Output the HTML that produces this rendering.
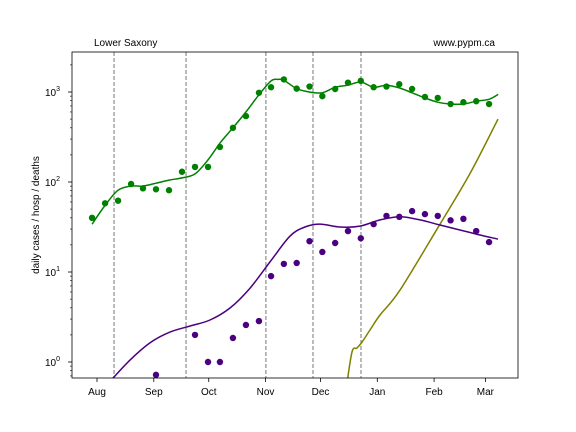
<!DOCTYPE html>
<html><head><meta charset="utf-8"><style>
body{margin:0;background:#fff;}
svg{display:block;font-family:"Liberation Sans","DejaVu Sans",sans-serif;}
</style></head><body>
<svg id="chart" width="576" height="432" viewBox="0 0 576 432" xmlns="http://www.w3.org/2000/svg">
<rect x="0" y="0" width="576" height="432" fill="#fff"/>
<defs><clipPath id="plotclip"><rect x="72" y="52" width="446" height="326"/></clipPath></defs>
<text x="94" y="46" font-size="10">Lower Saxony</text>
<text x="495" y="46" font-size="10" text-anchor="end">www.pypm.ca</text>
<text transform="translate(39,215) rotate(-90)" font-size="10" text-anchor="middle">daily cases / hosp / deaths</text>
<g id="grid"></g>
<g id="marks" clip-path="url(#plotclip)"></g>
<rect x="72" y="52" width="446" height="326" fill="none" stroke="#000" stroke-width="0.8"/>
<g id="axes"></g>
</svg>
<script>
// ---- data (days since Aug 1) ----
const monthLabels = ["Aug","Sep","Oct","Nov","Dec","Jan","Feb","Mar"];
const monthDays = [0,31,61,92,122,153,184,212];
const yTickExps = [0,1,2,3];
const eventDays = [9.3,48.6,92.2,117.9,144.1];
const dotDays = [-2.7,4.4,11.5,18.6,25.1,32.2,39.3,46.4,53.5,60.6,67.1,74.2,81.3,88.4,95,102,109,116,123,130,137,144,151,158,165,172,179,186,193,200,207,214];
const caseDots = [40,58,62,95,85,83,81,130,147,147,245,400,540,980,1130,1380,1090,1150,900,1080,1270,1330,1130,1150,1220,1080,880,860,735,770,790,735];
const deathDays = [32.2,53.5,60.6,67.1,74.2,81.3,88.4,95,102,109,116,123,130,137,144,151,158,165,172,179,186,193,200,207,214];
const deathDots = [0.72,2.0,1.0,1.0,1.85,2.58,2.85,9.0,12.3,12.6,22,16.7,21,28.5,23.7,34,42,41,47.5,44,42,37.5,39,28.5,21.5];
const caseLineDays = [-2.7,4.4,11.5,18.6,25.1,32.2,39.3,46.4,53.5,60.6,67.1,74.2,81.3,88.4,95,98.8,102,109,116,123,130,137,144,151,158,165,172,179,186,193,200,207,214,219];
const caseLine = [34,55,81,90,90,97,105,111,123,176,270,400,600,930,1330,1380,1350,1090,1000,980,1130,1190,1290,1130,1190,1110,980,860,770,735,735,790,830,940];
const deathLineDays = [8.7,18,28.9,39.8,50.8,61.7,72.6,83.5,94.4,105.3,113.5,121.7,132.6,143.6,154.5,165.4,176.3,187.2,198.1,209,218.9];
const deathLine = [0.66,1.05,1.63,2.15,2.51,2.93,3.98,6.6,12.9,25,31.6,34.1,31.6,32.4,37.9,41,37.9,33.3,29.3,25.8,23.2];
const hospLineDays = [136,139.2,141.9,144.7,149,154.5,165.4,187.2,203.5,218.9];
const hospLine = [0.5,1.29,1.43,1.67,2.27,3.33,6.3,34,123,500];

// ---- axes ----
const X0=97, XS=1.832;
const xs = d => X0 + d*XS;
const ys = v => 362 - 90*Math.log10(v);
const NS="http://www.w3.org/2000/svg";
function mk(tag, attrs, parent){const e=document.createElementNS(NS,tag);for(const k in attrs)e.setAttribute(k,attrs[k]);parent.appendChild(e);return e;}
const grid=document.getElementById('grid'), marks=document.getElementById('marks'), axes=document.getElementById('axes');

eventDays.forEach(d=>{
  const l=mk('line',{x1:xs(d),x2:xs(d),y1:52,y2:378,stroke:'#777','stroke-dasharray':'4,2','stroke-width':1},grid);
  
  
});
monthDays.forEach((d,i)=>{
  const x=xs(d);
  mk('line',{x1:x,x2:x,y1:378,y2:382,stroke:'#000','stroke-width':0.8},axes);
  const t=mk('text',{x:x,y:395,'font-size':10,'text-anchor':'middle'},axes);
  t.textContent=monthLabels[i];
  
  
});
for(let e=-1;e<=3;e++){
  for(let m=1;m<10;m++){
    const v=m*Math.pow(10,e), y=ys(v);
    if(y<52||y>378) continue;
    mk('line',{x1:72,x2:m===1?68:70,y1:y,y2:y,stroke:'#000','stroke-width':m===1?0.8:0.6},axes);
  }
}
yTickExps.forEach(e=>{
  const y=ys(Math.pow(10,e));
  const t=mk('text',{x:60,y:y+4,'font-size':10,'text-anchor':'end'},axes);
  t.textContent='10';
  const s=mk('tspan',{dy:-5,'font-size':7},t);
  s.textContent=String(e);
  
  
});

function line(days, vals, color, name){
  const P=days.map((d,i)=>[xs(d),ys(vals[i])]);
  let p='M'+P[0][0].toFixed(1)+','+P[0][1].toFixed(1);
  for(let i=0;i<P.length-1;i++){
    const p0=P[Math.max(0,i-1)],p1=P[i],p2=P[i+1],p3=P[Math.min(P.length-1,i+2)];
    const c1=[p1[0]+(p2[0]-p0[0])/6,p1[1]+(p2[1]-p0[1])/6];
    const c2=[p2[0]-(p3[0]-p1[0])/6,p2[1]-(p3[1]-p1[1])/6];
    p+=' C'+c1[0].toFixed(1)+','+c1[1].toFixed(1)+' '+c2[0].toFixed(1)+','+c2[1].toFixed(1)+' '+p2[0].toFixed(1)+','+p2[1].toFixed(1);
  }
  const el=mk('path',{d:p,fill:'none',stroke:color,'stroke-width':1.5},marks);
  
  
}
function dots(days, vals, color, name){
  days.forEach((d,i)=>{
    const c=mk('circle',{cx:xs(d),cy:ys(vals[i]),r:3.2,fill:color},marks);
    
    
  });
}
line(hospLineDays,hospLine,'#808000','hosp-line');
line(deathLineDays,deathLine,'#4b0082','deaths-line');
line(caseLineDays,caseLine,'#008000','cases-line');
dots(deathDays,deathDots,'#4b0082','death-point');
dots(dotDays,caseDots,'#008000','case-point');
</script>
</body></html>
